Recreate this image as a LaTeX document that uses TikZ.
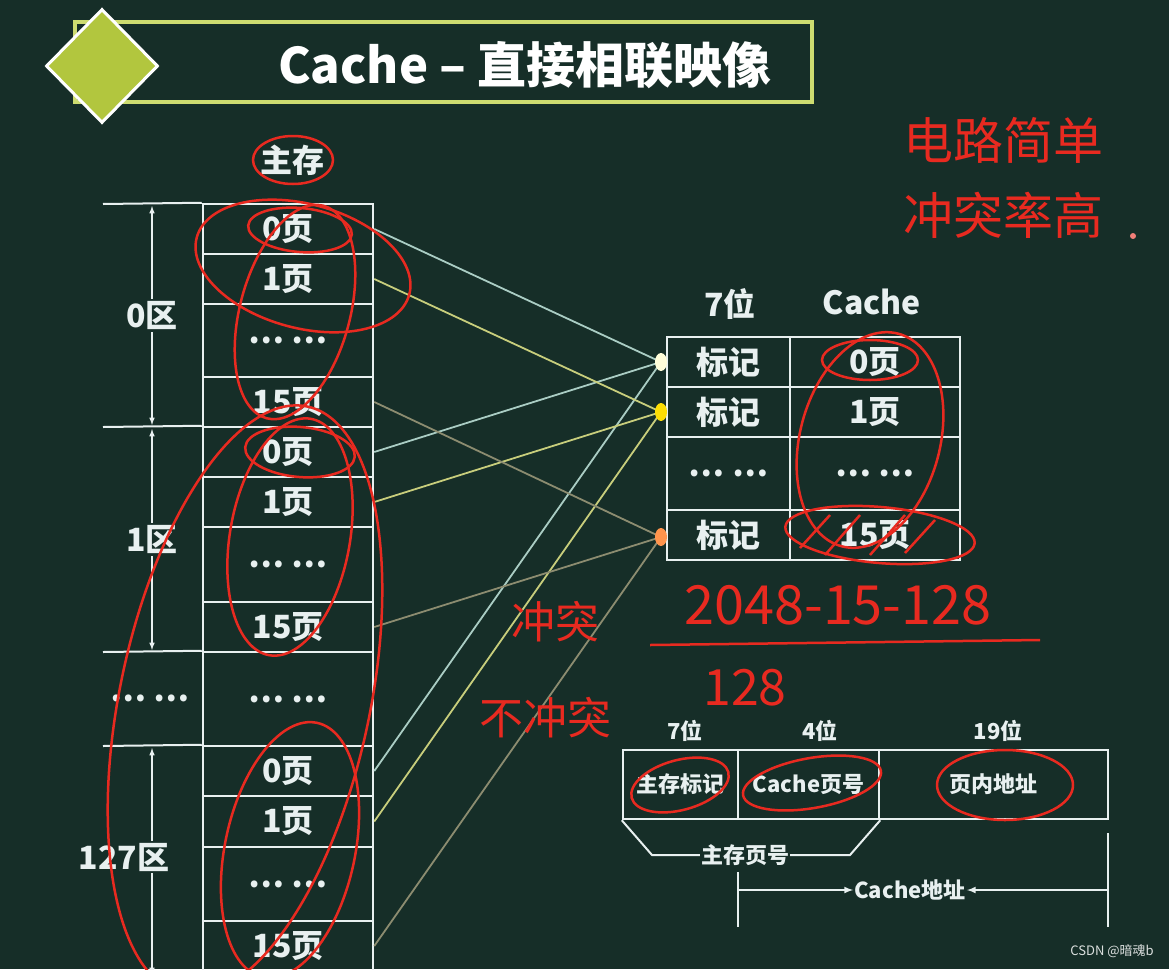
\documentclass[tikz,border=0pt]{standalone}
\usepackage{fontspec}
\setmainfont{Noto Sans CJK SC}
\usetikzlibrary{shapes.geometric,positioning}

\definecolor{board}{RGB}{22,46,40}
\definecolor{chalk}{RGB}{232,240,240}
\definecolor{lime}{RGB}{178,198,62}
\definecolor{frame}{RGB}{205,220,112}
\definecolor{ink}{RGB}{232,42,32}
\definecolor{lnwhite}{RGB}{170,205,196}
\definecolor{lnyellow}{RGB}{200,206,124}
\definecolor{lnorange}{RGB}{140,140,112}

\tikzstyle{memcell} = [rectangle, draw=chalk, line width=2.5pt, minimum width=170pt,
    inner sep=0pt, text=chalk, font=\fontsize{32}{34}\selectfont\bfseries]
\tikzstyle{tagcell} = [memcell, minimum width=123pt]
\tikzstyle{field} = [rectangle, draw=chalk, line width=2.5pt, minimum height=69pt,
    inner sep=0pt, text=chalk, font=\fontsize{22}{24}\selectfont\bfseries]
\tikzstyle{big} = [text=chalk, inner sep=2pt, font=\fontsize{32}{34}\selectfont\bfseries]
\tikzstyle{small} = [text=chalk, inner sep=1pt, font=\fontsize{22}{24}\selectfont\bfseries]
\tikzstyle{dim} = [chalk, line width=1.5pt, >=latex]
\tikzstyle{ann} = [draw=ink, line width=2.5pt]
\tikzstyle{hand} = [text=ink, inner sep=0pt, font=\fontsize{50}{52}\selectfont]
\tikzstyle{dot} = [ellipse, minimum width=10pt, minimum height=16pt, inner sep=0pt]

\begin{document}
\begin{tikzpicture}[x=1pt, y=-1pt]
    \useasboundingbox (0,0) rectangle (1169,969);
    \fill[board] (0,0) rectangle (1169,969);

    % Title
    \node [draw=frame, line width=4pt, minimum width=737pt, minimum height=80pt] (titlebox) at (443.5,62) {};
    \node [diamond, fill=lime, draw=white, line width=3pt, minimum width=112pt, minimum height=114pt, inner sep=0pt] (gem) at (102,66) {};
    \node [text=white, font=\fontsize{49}{51}\selectfont\bfseries] (title) at (525,65) {Cache – 直接相联映像};

    % Main memory
    \node [big] (memhead) at (292,160) {主存};
    \node [memcell, minimum height=50pt] (z0p0) at (288,229) {0页};
    \node [memcell, minimum height=50pt] (z0p1) at (288,279) {1页};
    \node [memcell, minimum height=73pt] (z0pd) at (288,340.5) {… …};
    \node [memcell, minimum height=50pt] (z0p15) at (288,402) {15页};
    \node [memcell, minimum height=50pt] (z1p0) at (288,452) {0页};
    \node [memcell, minimum height=50pt] (z1p1) at (288,502) {1页};
    \node [memcell, minimum height=75pt] (z1pd) at (288,564.5) {… …};
    \node [memcell, minimum height=50pt] (z1p15) at (288,627) {15页};
    \node [memcell, minimum height=94pt] (zgap) at (288,699) {… …};
    \node [memcell, minimum height=50pt] (z127p0) at (288,771) {0页};
    \node [memcell, minimum height=51pt] (z127p1) at (288,821.5) {1页};
    \node [memcell, minimum height=74pt] (z127pd) at (288,884) {… …};
    \node [memcell, minimum height=50pt] (z127p15) at (288,946) {15页};

    % Zone marks
    \coordinate (e0) at (103,204);
    \coordinate (e1) at (103,427);
    \coordinate (e2) at (103,652);
    \coordinate (e3) at (103,746);
    \draw [chalk, line width=2pt] (e0) -- (z0p0.north west);
    \draw [chalk, line width=2pt] (e1) -- (z1p0.north west);
    \draw [chalk, line width=2pt] (e2) -- (zgap.north west);
    \draw [chalk, line width=2pt] (e3) -- (z127p0.north west);
    \draw [dim, <->] (152,206) -- node [big, fill=board] (zone0) {0区} (152,425);
    \draw [dim, <->] (152,429) -- node [big, fill=board] (zone1) {1区} (152,650);
    \draw [dim, <->] (152,748) -- (152,975);
    \node [big, fill=board] (zone127) at (124,857) {127区};
    \node [big] (zonegap) at (150,698) {… …};

    % Cache
    \node [big] (cbits) at (730,304) {7位};
    \node [big] (chead) at (872,302) {Cache};
    \node [tagcell, minimum height=50pt] (t0) at (728.5,362) {标记};
    \node [memcell, minimum height=50pt] (c0) at (875,362) {0页};
    \node [tagcell, minimum height=50pt] (t1) at (728.5,412) {标记};
    \node [memcell, minimum height=50pt] (c1) at (875,412) {1页};
    \node [tagcell, minimum height=73pt] (td) at (728.5,473.5) {… …};
    \node [memcell, minimum height=73pt] (cd) at (875,473.5) {… …};
    \node [tagcell, minimum height=50pt] (t15) at (728.5,535) {标记};
    \node [memcell, minimum height=50pt] (c15) at (875,535) {15页};

    % Mapping lines
    \node [dot] (d0) at (661,362) {};
    \node [dot] (d1) at (661,412) {};
    \node [dot] (d15) at (661,537) {};
    \draw [lnwhite, line width=1.8pt] (z0p0.east) -- (d0);
    \draw [lnwhite, line width=1.8pt] (z1p0.east) -- (d0);
    \draw [lnwhite, line width=1.8pt] (z127p0.east) -- (d0);
    \draw [lnyellow, line width=1.8pt] (z0p1.east) -- (d1);
    \draw [lnyellow, line width=1.8pt] (z1p1.east) -- (d1);
    \draw [lnyellow, line width=1.8pt] (z127p1.east) -- (d1);
    \draw [lnorange, line width=1.8pt] (z0p15.east) -- (d15);
    \draw [lnorange, line width=1.8pt] (z1p15.east) -- (d15);
    \draw [lnorange, line width=1.8pt] (z127p15.east) -- (d15);
    \fill [yellow!15] (d0.center) ellipse [x radius=6pt, y radius=9pt];
    \fill [yellow!80!orange] (d1.center) ellipse [x radius=6pt, y radius=9pt];
    \fill [orange!80!red!70!white] (d15.center) ellipse [x radius=6pt, y radius=9pt];

    % Address format
    \node [small] (b7) at (685,731) {7位};
    \node [small] (b4) at (820,731) {4位};
    \node [small] (b19) at (998,731) {19位};
    \node [field, minimum width=115pt] (f1) at (680.5,784.5) {主存标记};
    \node [field, minimum width=141pt] (f2) at (808.5,784.5) {Cache页号};
    \node [field, minimum width=229pt] (f3) at (993.5,784.5) {页内地址};
    \node [small] (mpn) at (745,855) {主存页号};
    \draw [chalk, line width=2pt] (f1.south west) -- (652,855) -- (mpn.west);
    \draw [chalk, line width=2pt] (mpn.east) -- (850,855) -- (f2.south east);
    \node [small] (caddr) at (910,890) {Cache地址};
    \coordinate (ca1) at (738,872);
    \coordinate (ca2) at (738,927);
    \coordinate (ca3) at (1108,833);
    \coordinate (ca4) at (1108,927);
    \draw [chalk, line width=2pt] (ca1) -- (ca2);
    \draw [chalk, line width=2pt] (ca3) -- (ca4);
    \draw [dim, ->, line width=2pt] (738,890) -- (caddr.west);
    \draw [dim, ->, line width=2pt] (1108,890) -- (caddr.east);

    % Notes in red
    \draw [ann] (293,160) ellipse [x radius=40pt, y radius=24pt];
    \draw [ann, rotate around={-5:(300,230)}] (300,230) ellipse [x radius=52pt, y radius=22pt];
    \draw [ann, rotate around={-15:(303,266)}] (303,266) ellipse [x radius=110pt, y radius=62pt];
    \draw [ann, rotate around={-15:(295,312)}] (295,312) ellipse [x radius=55pt, y radius=110pt];
    \draw [ann, rotate around={-5:(300,452)}] (300,452) ellipse [x radius=55pt, y radius=25pt];
    \draw [ann, rotate around={-10:(290,537)}] (290,537) ellipse [x radius=60pt, y radius=120pt];
    \draw [ann, rotate around={-12:(245,700)}] (245,700) ellipse [x radius=125pt, y radius=300pt];
    \draw [ann, rotate around={-12:(290,850)}] (290,850) ellipse [x radius=65pt, y radius=130pt];
    \draw [ann] (870,360) ellipse [x radius=48pt, y radius=20pt];
    \draw [ann, rotate around={-15:(870,440)}] (870,440) ellipse [x radius=70pt, y radius=110pt];
    \draw [ann, rotate around={-5:(880,535)}] (880,535) ellipse [x radius=95pt, y radius=28pt];
    \draw [ann] (800,548) -- (830,515) (825,555) -- (860,515) (870,555) -- (905,515) (905,553) -- (935,520);
    \draw [ann, rotate around={15:(680,785)}] (680,785) ellipse [x radius=50pt, y radius=25pt];
    \draw [ann, rotate around={10:(812,783)}] (812,783) ellipse [x radius=70pt, y radius=25pt];
    \draw [ann] (1005,785) ellipse [x radius=68pt, y radius=35pt];
    \node [hand] (note1) at (1003,140) {电路简单};
    \node [hand] (note2) at (1003,215) {冲突率高};
    \fill [ink!60!white] (1133,236) circle (3pt);
    \node [hand, font=\fontsize{44}{46}\selectfont] (clash) at (555,622) {冲突};
    \node [hand, font=\fontsize{54}{56}\selectfont] (count) at (838,605) {2048-15-128};
    \draw [ann] (650,645) -- (1040,640);
    \node [hand, font=\fontsize{44}{46}\selectfont] (noclash) at (545,718) {不冲突};
    \node [hand] (count2) at (745,688) {128};

    % Watermark
    \node [text=white!85!board, font=\fontsize{13}{14}\selectfont] (mark) at (1112,951) {CSDN @暗魂b};

\end{tikzpicture}
\end{document}
